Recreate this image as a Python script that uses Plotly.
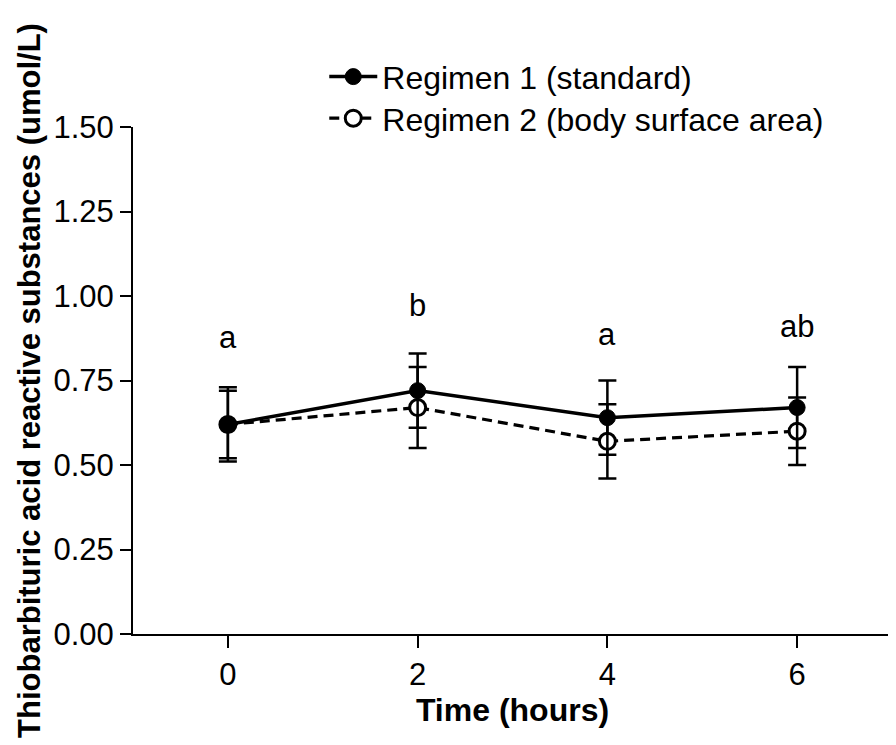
import plotly.graph_objects as go

time_h = [0, 2, 4, 6]
reg1_mean = [0.62, 0.72, 0.64, 0.67]
reg1_err = [0.10, 0.11, 0.11, 0.12]
reg2_mean = [0.62, 0.67, 0.57, 0.60]
reg2_err = [0.11, 0.12, 0.11, 0.10]
sig_letters = ["a", "b", "a", "ab"]
sig_y = [0.876, 0.971, 0.887, 0.911]
ytick_vals = [0.0, 0.25, 0.5, 0.75, 1.0, 1.25, 1.5]

FONT = "Liberation Sans, Arial, sans-serif"
FS = 31

fig = go.Figure()
fig.add_trace(go.Scatter(
    x=time_h, y=reg2_mean, name="Regimen 2 (body surface area)",
    mode="lines+markers",
    line=dict(color="black", width=3.2, dash="10px,6px"),
    marker=dict(symbol="circle", size=16, color="white", line=dict(color="black", width=3)),
    error_y=dict(type="data", array=reg2_err, visible=True, color="black", thickness=2.5, width=9),
    legend="legend2",
))
fig.add_trace(go.Scatter(
    x=time_h, y=reg1_mean, name="Regimen 1 (standard)",
    mode="lines+markers",
    line=dict(color="black", width=3.5),
    marker=dict(symbol="circle", size=16, color="black", line=dict(color="black", width=1)),
    error_y=dict(type="data", array=reg1_err, visible=True, color="black", thickness=2.5, width=9),
    legend="legend",
))

for xv, yv, t in zip(time_h, sig_y, sig_letters):
    fig.add_annotation(x=xv, y=yv, text=t, showarrow=False,
                       font=dict(size=FS, color="black", family=FONT),
                       xanchor="center", yanchor="middle")

fig.update_layout(
    width=896, height=745,
    margin=dict(l=125, r=12, t=119, b=119, autoexpand=False),
    paper_bgcolor="white", plot_bgcolor="white",
    font=dict(family=FONT, size=FS, color="black"),
    showlegend=True,
    legend=dict(x=0.252, y=1.099, xanchor="left", yanchor="middle", itemwidth=48,
                bgcolor="rgba(0,0,0,0)", font=dict(size=32, family=FONT)),
    legend2=dict(x=0.252, y=1.017, xanchor="left", yanchor="middle", itemwidth=48,
                 bgcolor="rgba(0,0,0,0)", font=dict(size=32, family=FONT)),
    xaxis=dict(
        range=[-1, 7], tickvals=time_h, ticktext=[str(t) for t in time_h],
        showline=True, linecolor="black", linewidth=2,
        ticks="outside", ticklen=12, tickwidth=2, tickcolor="black",
        showgrid=False, zeroline=False,
        tickfont=dict(size=FS, family=FONT),
        title=dict(text="<b>Time (hours)</b>", font=dict(size=32, family=FONT), standoff=6),
        automargin=False,
    ),
    yaxis=dict(
        range=[0, 1.5], tickvals=ytick_vals, tickformat=".2f",
        showline=True, linecolor="black", linewidth=2,
        ticks="outside", ticklen=11, tickwidth=2, tickcolor="black",
        showgrid=False, zeroline=False,
        tickfont=dict(size=FS, family=FONT),
        title=dict(text="<b>Thiobarbituric acid reactive substances (umol/L)</b>",
                   font=dict(size=31, family=FONT), standoff=4),
        automargin=False,
    ),
)

fig.write_html("out.html")
